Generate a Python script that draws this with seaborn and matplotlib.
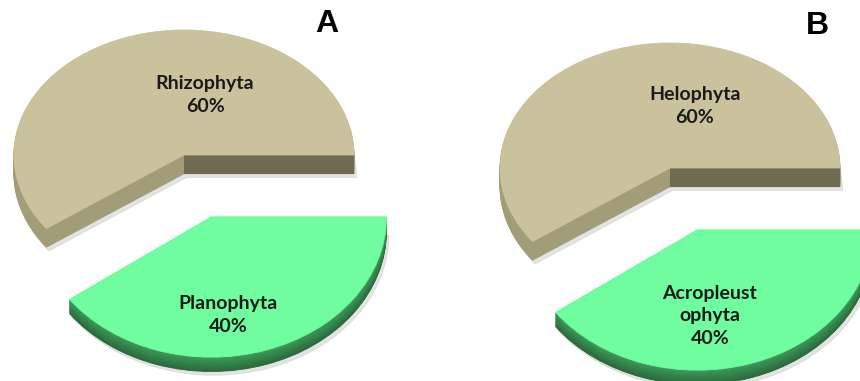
import numpy as np
import matplotlib
matplotlib.use("Agg")
import matplotlib.pyplot as plt
import seaborn as sns
from matplotlib.colors import to_rgb
from matplotlib.patches import Rectangle
from matplotlib.transforms import Affine2D

# Life-form shares per panel
panel_letters = ["A", "B"]
categories_a = ["Rhizophyta", "Planophyta"]
categories_b = ["Helophyta", "Acropleust\nophyta"]
shares_a = [60, 40]
shares_b = [60, 40]

sns.set_theme(style="white")
plt.rcParams["font.family"] = ["Lato", "DejaVu Sans"]

TAN_TOP = "#C9C29D"
TAN_SIDE = "#A29C78"
TAN_CUT = "#6F6B50"
GREEN_TOP = "#6FFDA0"
GREEN_SIDE_LO = "#2A6A3C"
GREEN_SIDE_HI = "#3F9A5A"
SHADOW = "#C8C8C8"

TAN_DEPTH = 0.15
GREEN_DEPTH = 0.115
GREEN_RADIUS = 1.03
GREEN_STRETCH = 1.09      # front slice looks taller (closer to the viewer)
EXPLODE = [0, 0.52]
LAYERS = 18


def blend(c1, c2, t):
    a, b = np.array(to_rgb(c1)), np.array(to_rgb(c2))
    return tuple(a + (b - a) * t)


def one_slice(ax, shares, idx, color, center, radius, stretch=1.0, alpha=1.0):
    wedges, _ = ax.pie(shares, startangle=0, counterclock=True, radius=radius,
                       center=center, explode=EXPLODE, colors=[color] * len(shares),
                       wedgeprops=dict(linewidth=0.6, edgecolor=color, alpha=alpha))
    for i, w in enumerate(wedges):
        if i != idx:
            w.remove()
    w = wedges[idx]
    if stretch != 1.0:
        cx, cy = w.center
        w.set_transform(Affine2D().translate(-cx, -cy).scale(1.0, stretch)
                        .translate(cx, cy) + ax.transData)
    return w


def draw_panel(ax, shares, labels, xlim, ylim, pos_big, pos_small):
    # soft shadows
    one_slice(ax, shares, 0, SHADOW, (0.015, -TAN_DEPTH - 0.03), 1.0, alpha=0.5)
    one_slice(ax, shares, 1, SHADOW, (0.015, -GREEN_DEPTH - 0.03), GREEN_RADIUS,
              GREEN_STRETCH, alpha=0.5)
    # extruded sides of the large slice
    for k in range(LAYERS, 0, -1):
        one_slice(ax, shares, 0, TAN_SIDE, (0, -TAN_DEPTH * k / LAYERS), 1.0)
    ax.add_patch(Rectangle((0, -TAN_DEPTH), 1.0, TAN_DEPTH, color=TAN_CUT, lw=0))
    one_slice(ax, shares, 0, TAN_TOP, (0, 0), 1.0)
    # extruded sides of the exploded slice
    for k in range(LAYERS, 0, -1):
        col = blend(GREEN_SIDE_LO, GREEN_SIDE_HI, 1 - k / LAYERS)
        one_slice(ax, shares, 1, col, (0, -GREEN_DEPTH * k / LAYERS), GREEN_RADIUS,
                  GREEN_STRETCH)
    one_slice(ax, shares, 1, GREEN_TOP, (0, 0), GREEN_RADIUS, GREEN_STRETCH)

    for (x, y), lab, val in zip([pos_big, pos_small], labels, shares):
        ax.text(x, y, f"{lab}\n{val}%", ha="center", va="center", fontsize=14,
                fontweight="bold", color="#1A1A1A", linespacing=1.4)

    ax.set_aspect("auto")
    ax.set_xlim(*xlim)
    ax.set_ylim(*ylim)
    ax.axis("off")


fig = plt.figure(figsize=(8.6, 3.81), dpi=100)
ax_a = fig.add_axes([0, 0, 0.5, 1])
ax_b = fig.add_axes([0.5, 0, 0.5, 1])

draw_panel(ax_a, shares_a, categories_a, (-1.082, 1.447), (-1.808, 1.24),
           (0.124, 0.48), (0.259, -1.28))
draw_panel(ax_b, shares_b, categories_b, (-1.412, 1.118), (-1.704, 1.344),
           (0.147, 0.496), (0.235, -1.184))

for letter, (x, y) in zip(panel_letters, [(0.380, 0.937), (0.951, 0.931)]):
    fig.text(x, y, letter, ha="center", va="center", fontsize=23,
             fontweight="bold", family=["Liberation Sans", "DejaVu Sans"], color="black")

fig.savefig("out.png", dpi=100, facecolor="white")
